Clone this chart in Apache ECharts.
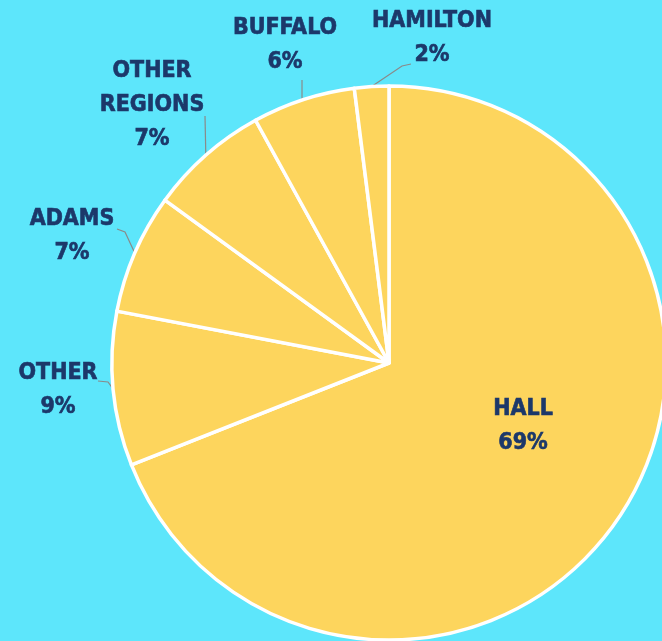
<!DOCTYPE html>
<html>
<head>
<meta charset="utf-8">
<style>
  html, body { margin: 0; padding: 0; background: #5de6fb; }
  #chart { width: 662px; height: 641px; }
</style>
<script src="https://cdn.jsdelivr.net/npm/echarts@6/dist/echarts.min.js"></script>
</head>
<body>
<div id="chart"></div>
<script>
// Share of members by region
const regions = ['HALL', 'OTHER', 'ADAMS', 'OTHER REGIONS', 'BUFFALO', 'HAMILTON'];
const shares = [69, 9, 7, 7, 6, 2];

// Outside labels: text block centre, plus the leader's bend points
// (the leader starts on the slice edge unless a start is given)
const labelSpots = {
  'OTHER':         { at: [58, 390],  line: [[108, 382], [98, 381]] },
  'ADAMS':         { at: [72, 236],  line: [[125, 232], [117, 229]] },
  'OTHER REGIONS': { at: [152, 105], line: [[205, 116]] },
  'BUFFALO':       { at: [285, 45],  line: [[302, 80]], start: [302, 100] },
  'HAMILTON':      { at: [432, 38],  line: [[402, 66], [411, 64]] }
};

const navy = '#1c386a';
const font = "'DejaVu Sans Condensed', 'Liberation Sans Narrow', sans-serif";

const chart = echarts.init(document.getElementById('chart'), null, { renderer: 'canvas' });

chart.setOption({
  backgroundColor: '#5de6fb',
  animation: false,
  series: [{
    type: 'pie',
    center: [389, 363],
    radius: 277,
    startAngle: 90,
    clockwise: true,
    avoidLabelOverlap: false,
    percentPrecision: 0,
    itemStyle: { color: '#fdd55d', borderColor: '#ffffff', borderWidth: 3.5 },
    label: {
      show: true,
      position: 'outside',
      formatter: p => p.name.replace(' ', '\n') + '\n' + p.percent + '%',
      color: navy,
      textBorderColor: navy,
      textBorderWidth: 0.6,
      fontFamily: font,
      fontWeight: 'bold',
      fontSize: 23,
      lineHeight: 34,
      align: 'center'
    },
    labelLine: {
      show: true,
      length: 12,
      length2: 8,
      smooth: false,
      lineStyle: { color: '#8a8a8a', width: 1.2 }
    },
    labelLayout: function (params) {
      const spot = labelSpots[regions[params.dataIndex]];
      if (!spot) return {};
      const start = spot.start || params.labelLinePoints[0];
      const pts = [start].concat(spot.line);
      while (pts.length < 3) pts.push(pts[pts.length - 1]);
      return {
        x: spot.at[0],
        y: spot.at[1],
        align: 'center',
        verticalAlign: 'middle',
        labelLinePoints: pts
      };
    },
    data: regions.map((name, i) => {
      const item = { name: name, value: shares[i] };
      if (name === 'HALL') {
        item.label = { position: 'inside', offset: [17, -17] };
        item.labelLine = { show: false };
      }
      return item;
    })
  }]
});
</script>
</body>
</html>
